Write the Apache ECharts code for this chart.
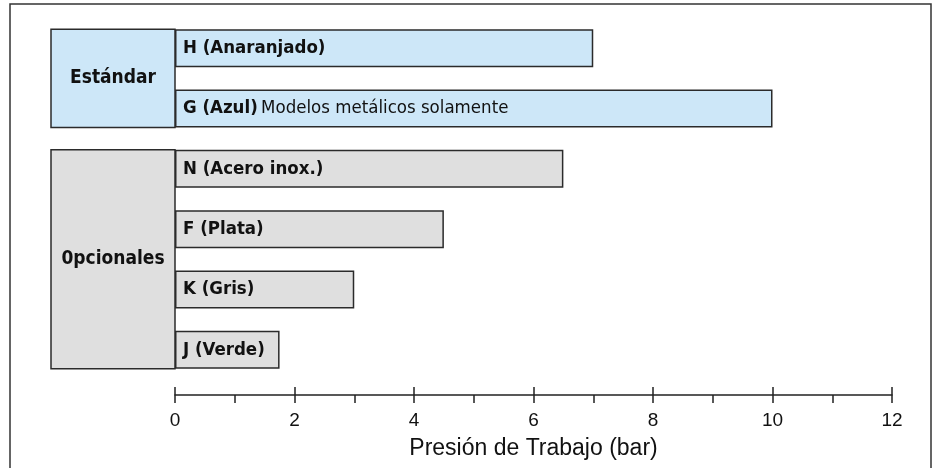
<!DOCTYPE html>
<html>
<head>
<meta charset="utf-8">
<script src="https://cdn.jsdelivr.net/npm/echarts@6/dist/echarts.min.js"></script>
<style>
  html, body { margin: 0; padding: 0; background: #fff; }
  #chart { width: 936px; height: 468px; }
</style>
</head>
<body>
<div id="chart"></div>
<script>
// data
const codes = ['H (Anaranjado)', 'G (Azul)', 'N (Acero inox.)', 'F (Plata)', 'K (Gris)', 'J (Verde)'];
const notes = ['', 'Modelos metálicos solamente', '', '', '', ''];
const pressures = [7, 10, 6.5, 4.5, 3, 1.75];
const groupNames = ['Estándar', '0pcionales'];
const groupFirst = [0, 2];
const groupLast = [1, 5];
const xTicks = [0, 2, 4, 6, 8, 10, 12];

const narrow = '"Liberation Sans Narrow", "Arial Narrow", "DejaVu Sans Condensed", sans-serif';
const plain = '"Liberation Sans", Arial, sans-serif';
const groupFill = ['#cde7f8', '#dfdfdf'];
const edge = '#2b2b2b';
const barW = 38;

function groupOf(i) {
  for (let g = 0; g < groupNames.length; g++) {
    if (i >= groupFirst[g] && i <= groupLast[g]) return g;
  }
  return 0;
}

let chart = echarts.init(document.getElementById('chart'));

let option = {
  animation: false,
  graphic: [{
    type: 'rect',
    shape: { x: 10, y: 4, width: 921, height: 480 },
    style: { fill: 'none', stroke: '#333', lineWidth: 1.5 },
    silent: true
  }],
  grid: {
    left: 175,
    right: 44,
    top: 18,
    bottom: 88
  },
  xAxis: [{
    type: 'value',
    min: xTicks[0],
    max: xTicks[xTicks.length - 1],
    interval: 2,
    offset: 15,
    name: 'Presión de Trabajo (bar)',
    nameLocation: 'middle',
    nameGap: 42,
    nameTextStyle: { color: '#111', fontSize: 23, fontFamily: plain },
    axisLine: { show: true, lineStyle: { color: '#222', width: 1.5 } },
    axisTick: { show: true, length: 8, lineStyle: { color: '#222', width: 1.5 } },
    minorTick: { show: true, splitNumber: 2, length: 8, lineStyle: { color: '#222', width: 1.5 } },
    axisLabel: { color: '#111', fontSize: 19, margin: 16, fontFamily: plain },
    splitLine: { show: false }
  }, {
    // upper half of the major ticks
    type: 'value',
    position: 'bottom',
    min: xTicks[0],
    max: xTicks[xTicks.length - 1],
    interval: 2,
    offset: 15,
    axisLine: { show: false },
    axisTick: { show: true, inside: true, length: 8, lineStyle: { color: '#222', width: 1.5 } },
    axisLabel: { show: false },
    splitLine: { show: false }
  }],
  yAxis: {
    type: 'category',
    inverse: true,
    data: codes,
    show: false
  },
  series: [
    {
      type: 'bar',
      barWidth: barW,
      data: pressures.map((v, i) => ({
        value: v,
        itemStyle: { color: groupFill[groupOf(i)] }
      })),
      itemStyle: { borderColor: edge, borderWidth: 1.5 },
      label: {
        show: true,
        position: 'insideLeft',
        distance: 8,
        formatter: (p) => {
          let n = notes[p.dataIndex];
          return '{b|' + codes[p.dataIndex] + '}' + (n ? ' {r|' + n + '}' : '');
        },
        rich: {
          b: { fontFamily: narrow, fontWeight: 'bold', fontSize: 18.5, color: '#111' },
          r: { fontFamily: narrow, fontSize: 18.5, color: '#111' }
        }
      }
    },
    {
      type: 'custom',
      coordinateSystem: 'cartesian2d',
      xAxisIndex: 0,
      clip: false,
      silent: true,
      data: groupNames.map((n, g) => [groupFirst[g], groupLast[g], g]),
      renderItem: (params, api) => {
        let g = api.value(2);
        let a = api.coord([0, api.value(0)]);
        let b = api.coord([0, api.value(1)]);
        let top = a[1] - barW / 2;
        let bottom = b[1] + barW / 2;
        let right = a[0];
        let left = right - 124;
        return {
          type: 'group',
          children: [{
            type: 'rect',
            shape: { x: left, y: top, width: right - left, height: bottom - top },
            style: { fill: groupFill[g], stroke: edge, lineWidth: 1.5 }
          }, {
            type: 'text',
            x: (left + right) / 2,
            y: (top + bottom) / 2,
            style: {
              text: groupNames[g],
              align: 'center',
              verticalAlign: 'middle',
              font: 'bold 19px ' + narrow,
              fill: '#111'
            }
          }]
        };
      }
    }
  ]
};

chart.setOption(option);
</script>
</body>
</html>
